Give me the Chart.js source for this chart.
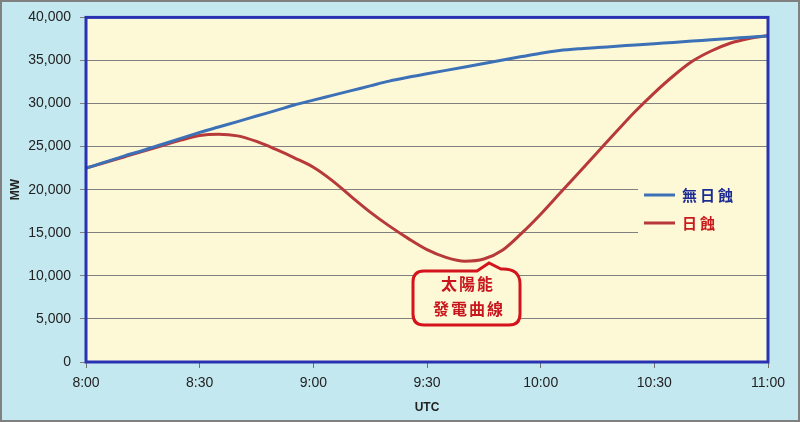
<!DOCTYPE html>
<html>
<head>
<meta charset="utf-8">
<script src="https://cdn.jsdelivr.net/npm/chart.js@4/dist/chart.umd.min.js"></script>
<style>
html,body{margin:0;padding:0;background:#c4e8f0;}
#wrap{width:800px;height:422px;}
</style>
</head>
<body>
<div id="wrap"><canvas id="c" width="800" height="422"></canvas></div>
<script>
// minutes after 8:00 UTC
const minutes = [0,5,10,15,20,25,30,35,40,45,50,55,60,65,70,75,80,85,90,95,100,105,110,115,120,125,130,135,140,145,150,155,160,165,170,175,180];
const noEclipse = [22500,23200,23900,24550,25250,25950,26650,27280,27900,28550,29180,29830,30400,30950,31500,32050,32600,33050,33450,33850,34250,34650,35050,35450,35850,36150,36350,36500,36650,36800,36950,37100,37250,37400,37550,37700,37850];
const eclipse = [22500,23150,23800,24450,25100,25750,26300,26450,26250,25600,24700,23700,22600,21050,19200,17400,15800,14350,13050,12150,11700,11950,13000,14950,17150,19550,21950,24350,26750,29100,31250,33200,34900,36100,37000,37550,37900];
const xTickValues = [0,30,60,90,120,150,180];
const xTickLabels = ['8:00','8:30','9:00','9:30','10:00','10:30','11:00'];
const seriesNames = ['無日蝕','日蝕'];
const calloutLines = ['太陽能','發電曲線'];

const BLUE = '#3c70b7', RED = '#b7393a';

const bgPlugin = {
  id:'bg',
  beforeDraw(chart){
    const {ctx, chartArea:a} = chart;
    ctx.save();
    ctx.fillStyle = '#c4e8f0';
    ctx.fillRect(0,0,chart.width,chart.height);
    ctx.fillStyle = '#fdf9d6';
    ctx.fillRect(a.left,a.top,a.right-a.left,a.bottom-a.top);
    ctx.restore();
  },
  afterDraw(chart){
    const {ctx, chartArea:a} = chart;
    ctx.save();
    // legend box
    ctx.fillStyle = '#fdf9d6';
    ctx.fillRect(638,178,a.right-638,64);
    const items = [[BLUE,'#1c2b94',195],[RED,'#c81c1c',223]];
    items.forEach((it,i)=>{
      ctx.strokeStyle = it[0]; ctx.lineWidth = 3;
      ctx.beginPath(); ctx.moveTo(644,it[2]); ctx.lineTo(675,it[2]); ctx.stroke();
      ctx.fillStyle = it[1];
      ctx.font = 'bold 15px "Noto Sans CJK TC"';
      ctx.textBaseline = 'middle'; ctx.textAlign = 'left';
      ctx.letterSpacing = '3px';
      ctx.fillText(seriesNames[i], 682, it[2]);
    });
    ctx.letterSpacing = '0px';
    // callout
    const L=413,R=520,T=271,B=325,r=11;
    ctx.beginPath();
    ctx.moveTo(L+r,T);
    ctx.lineTo(477,T);
    ctx.lineTo(489,263);
    ctx.lineTo(501,269);
    ctx.quadraticCurveTo(R,268,R,T+r+2);
    ctx.lineTo(R,B-r);
    ctx.quadraticCurveTo(R,B,R-r,B);
    ctx.lineTo(L+r,B);
    ctx.quadraticCurveTo(L,B,L,B-r);
    ctx.lineTo(L,T+r);
    ctx.quadraticCurveTo(L,T,L+r,T);
    ctx.closePath();
    ctx.fillStyle = '#fdf9d6'; ctx.fill();
    ctx.strokeStyle = '#d4141c'; ctx.lineWidth = 3; ctx.stroke();
    ctx.fillStyle = '#c8161e';
    ctx.font = 'bold 16px "Noto Sans CJK TC"';
    ctx.textAlign = 'center'; ctx.textBaseline = 'middle';
    ctx.letterSpacing = '2px';
    ctx.fillText(calloutLines[0], 468, 284);
    ctx.fillText(calloutLines[1], 469, 309);
    ctx.letterSpacing = '0px';
    // plot border
    ctx.strokeStyle = '#2832b2'; ctx.lineWidth = 3;
    ctx.strokeRect(a.left, a.top, a.right-a.left, a.bottom-a.top);
    // outer frame
    ctx.strokeStyle = '#808080'; ctx.lineWidth = 2;
    ctx.strokeRect(1,1,chart.width-2,chart.height-2);
    ctx.restore();
  }
};

new Chart(document.getElementById('c'), {
  type:'line',
  data:{
    datasets:[
      {label:seriesNames[0], data:minutes.map((m,i)=>({x:m,y:noEclipse[i]})), borderColor:BLUE, borderWidth:3, pointRadius:0, cubicInterpolationMode:'monotone'},
      {label:seriesNames[1], data:minutes.map((m,i)=>({x:m,y:eclipse[i]})), borderColor:RED, borderWidth:3, pointRadius:0, cubicInterpolationMode:'monotone'}
    ]
  },
  options:{
    responsive:false, animation:false, devicePixelRatio:1,
    layout:{padding:{left:0,top:13,right:32,bottom:0}},
    plugins:{legend:{display:false}, tooltip:{enabled:false}},
    scales:{
      x:{
        type:'linear', min:0, max:180,
        afterBuildTicks(s){ s.ticks = xTickValues.map(v=>({value:v})); },
        afterFit(s){ s.height = 60; },
        grid:{drawOnChartArea:false, drawTicks:true, tickLength:6, color:'#707070'},
        border:{display:false},
        ticks:{font:{family:'"Liberation Sans"', size:14}, color:'#222', padding:7, maxRotation:0,
          callback:(v)=>{const i=xTickValues.indexOf(v); return i>=0?xTickLabels[i]:'';}},
        title:{display:true, text:'UTC', font:{family:'"Liberation Sans"', size:12, weight:'bold'}, color:'#222', padding:{top:0,bottom:7}}
      },
      y:{
        min:0, max:40000,
        afterFit(s){ s.width = 86; },
        grid:{color:'#808080', lineWidth:1, tickLength:6, drawTicks:true},
        border:{display:false},
        ticks:{stepSize:5000, font:{family:'"Liberation Sans"', size:14}, color:'#222', padding:9,
          callback:(v)=>v.toLocaleString('en-US')},
        title:{display:true, text:'MW', font:{family:'"Liberation Sans"', size:12, weight:'bold'}, color:'#222', padding:{top:8,bottom:0}}
      }
    }
  },
  plugins:[bgPlugin]
});
</script>
</body>
</html>
